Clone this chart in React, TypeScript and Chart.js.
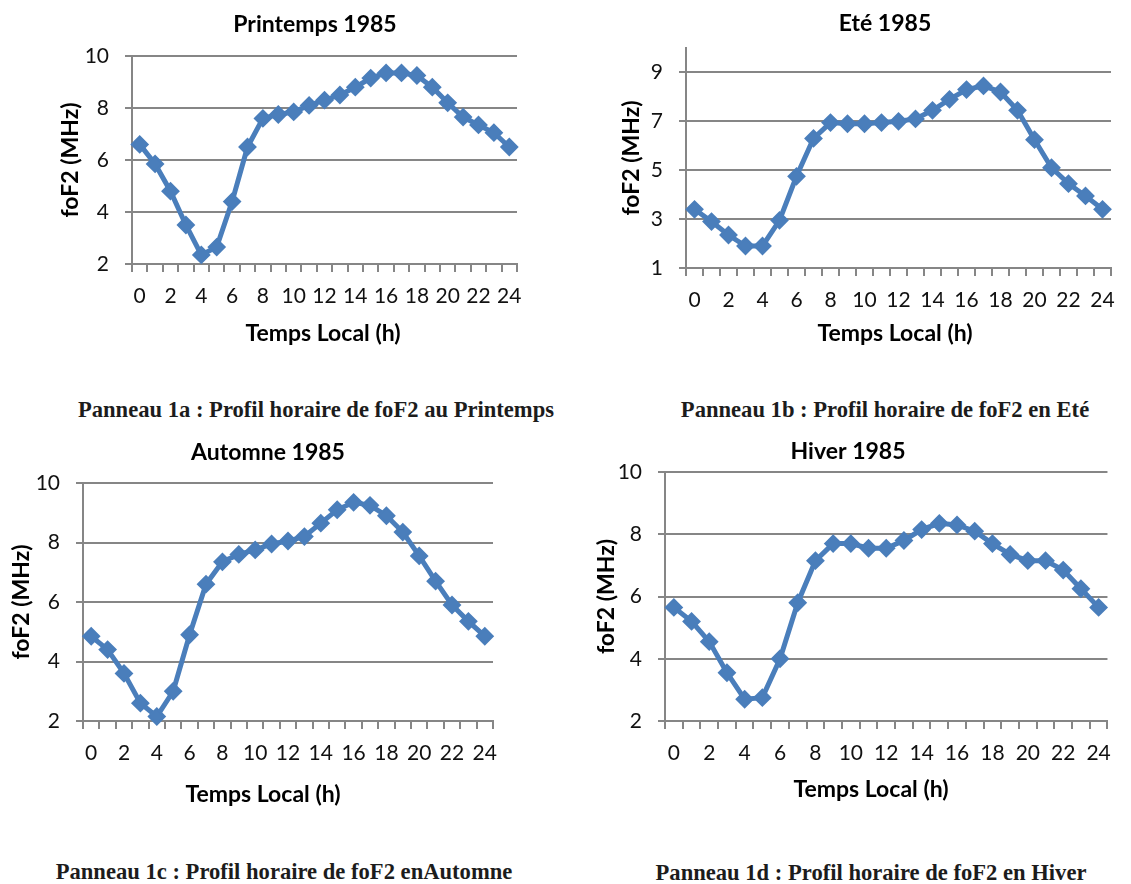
import React, { useEffect, useRef } from 'react';
import { Chart, registerables } from 'chart.js';

Chart.register(...registerables);
Chart.defaults.font.family = 'Lato';

// ---------- data ----------
const hours = ['0', '1', '2', '3', '4', '5', '6', '7', '8', '9', '10', '11', '12',
  '13', '14', '15', '16', '17', '18', '19', '20', '21', '22', '23', '24'];

const yTicksPrintemps = [2, 4, 6, 8, 10];
const yTicksEte = [1, 3, 5, 7, 9];
const yTicksAutomne = [2, 4, 6, 8, 10];
const yTicksHiver = [2, 4, 6, 8, 10];

const foF2Printemps = [6.6, 5.85, 4.8, 3.5, 2.35, 2.65, 4.4, 6.5, 7.6, 7.75, 7.85, 8.1, 8.3,
  8.5, 8.8, 9.15, 9.35, 9.35, 9.25, 8.8, 8.2, 7.65, 7.35, 7.05, 6.5];
const foF2Ete = [3.4, 2.9, 2.35, 1.9, 1.9, 2.95, 4.75, 6.3, 6.95, 6.9, 6.9, 6.95, 7.0,
  7.1, 7.45, 7.9, 8.3, 8.45, 8.2, 7.45, 6.25, 5.1, 4.45, 3.95, 3.4];
const foF2Automne = [4.85, 4.4, 3.6, 2.6, 2.15, 3.0, 4.9, 6.6, 7.35, 7.6, 7.75, 7.95, 8.05,
  8.2, 8.65, 9.1, 9.35, 9.25, 8.9, 8.35, 7.55, 6.7, 5.9, 5.35, 4.85];
const foF2Hiver = [5.65, 5.2, 4.55, 3.55, 2.7, 2.75, 4.0, 5.8, 7.15, 7.7, 7.7, 7.55, 7.55,
  7.8, 8.15, 8.35, 8.3, 8.1, 7.7, 7.35, 7.15, 7.15, 6.85, 6.25, 5.65];

const xAxisTitle = 'Temps Local (h)';
const yAxisTitle = 'foF2 (MHz)';

// ---------- style ----------
const BLUE = '#4A7EBB';
const GRID = '#868686';
const TXT = '#111111';
const TITLE_SIZE = 23;
const TICK_SIZE = 21;

type PanelProps = {
  title: string;
  values: number[];
  yTicks: number[];
  yMin: number;
  yMax: number;
  plotL: number; plotR: number; plotT: number; plotB: number;
  titleX: number; titleY: number; ct: number;
  yTitleX: number; xTitleX: number; xTitleY: number;
};

function Panel(p: PanelProps) {
  const ref = useRef<HTMLCanvasElement>(null);
  const lh = TITLE_SIZE * 1.2;
  const cl = Math.min(Math.floor(p.yTitleX - 20), Math.round(2 * p.titleX - p.plotR));
  const yPad = p.yTitleX - cl - lh / 2;
  const Wy = p.plotL - cl;
  const cr = Math.max(p.plotR, Math.round(2 * p.titleX - cl));
  const Wr = cr - p.plotR;
  const tPadTop = p.titleY - p.ct - lh / 2;
  const tPadBottom = p.plotT - p.ct - tPadTop - lh;
  const cb = Math.round(p.xTitleY + lh / 2 + 6);
  const Hx = cb - p.plotB;
  const w = cr - cl;
  const h = cb - p.ct;

  useEffect(() => {
    const xTitlePlugin = {
      id: 'xTitlePlugin',
      afterDraw(chart: any) {
        const ctx = chart.ctx;
        ctx.save();
        ctx.font = `bold ${TITLE_SIZE}px Lato`;
        ctx.fillStyle = '#000';
        ctx.textAlign = 'center';
        ctx.textBaseline = 'middle';
        ctx.fillText(xAxisTitle, p.xTitleX - cl, p.xTitleY - p.ct);
        ctx.restore();
      },
    };
    const chart = new Chart(ref.current as HTMLCanvasElement, {
      type: 'line',
      data: {
        labels: hours,
        datasets: [{
          data: p.values,
          borderColor: BLUE,
          backgroundColor: BLUE,
          borderWidth: 5,
          pointStyle: 'rectRot',
          pointRadius: 8,
          pointBorderWidth: 2,
          pointBackgroundColor: BLUE,
          pointBorderColor: BLUE,
          tension: 0,
          clip: false,
          yAxisID: 'y',
        }],
      },
      options: {
        responsive: false,
        animation: false,
        events: [],
        layout: { padding: 0 },
        plugins: {
          legend: { display: false },
          tooltip: { enabled: false },
          title: {
            display: true,
            text: p.title,
            color: '#000',
            font: { family: 'Lato', size: TITLE_SIZE, weight: 'bold', lineHeight: 1.2 },
            padding: { top: tPadTop, bottom: tPadBottom },
          },
        },
        scales: {
          x: {
            type: 'category',
            offset: true,
            grid: {
              offset: true,
              drawOnChartArea: false,
              drawTicks: true,
              tickLength: 8,
              color: GRID,
              lineWidth: 2,
            },
            border: { display: true, color: GRID, width: 2 },
            ticks: {
              autoSkip: false,
              maxRotation: 0,
              minRotation: 0,
              padding: 12,
              color: TXT,
              font: { family: 'Lato', size: TICK_SIZE },
              callback: (_v: any, i: number) => (i % 2 === 0 ? hours[i] : ''),
            },
            title: { display: false, text: xAxisTitle },
            afterFit: (s: any) => { s.height = Hx; },
          },
          y: {
            type: 'linear',
            position: 'left',
            min: p.yMin,
            max: p.yMax,
            afterBuildTicks: (s: any) => { s.ticks = p.yTicks.map((v) => ({ value: v })); },
            grid: {
              drawTicks: true,
              tickLength: 7,
              color: GRID,
              lineWidth: 2,
            },
            border: { display: true, color: GRID, width: 2 },
            ticks: {
              padding: 16,
              color: TXT,
              font: { family: 'Lato', size: TICK_SIZE },
            },
            title: {
              display: true,
              text: yAxisTitle,
              color: '#000',
              font: { family: 'Lato', size: TITLE_SIZE, weight: 'bold', lineHeight: 1.2 },
              padding: { top: yPad, bottom: 0 },
            },
            afterFit: (s: any) => { s.width = Wy; },
          },
          yR: {
            type: 'linear',
            position: 'right',
            display: true,
            grid: { display: false, drawTicks: false },
            border: { display: false },
            ticks: { display: false },
            title: { display: false },
            afterFit: (s: any) => { s.width = Wr; },
          },
        },
      } as any,
      plugins: [xTitlePlugin],
    });
    return () => chart.destroy();
  }, []);

  return (
    <canvas
      ref={ref}
      width={w}
      height={h}
      style={{ position: 'absolute', left: cl, top: p.ct, width: w, height: h }}
    />
  );
}

function Caption({ text, cx, cy }: { text: string; cx: number; cy: number }) {
  return (
    <div
      style={{
        position: 'absolute',
        left: cx - 300,
        top: cy - 11,
        width: 600,
        textAlign: 'center',
        fontFamily: '"Liberation Serif", "Times New Roman", serif',
        fontWeight: 'bold',
        fontSize: 22.6,
        lineHeight: '22px',
        color: '#1c1c1c',
        whiteSpace: 'nowrap',
      }}
    >
      {text}
    </div>
  );
}

export default function App() {
  return (
    <div
      style={{
        position: 'absolute',
        left: 0,
        top: 0,
        width: 1131,
        height: 884,
        overflow: 'hidden',
        background: '#ffffff',
      }}
    >
      <Panel title="Printemps 1985" values={foF2Printemps} yTicks={yTicksPrintemps} yMin={2} yMax={10}
        plotL={132} plotR={517} plotT={56} plotB={264}
        titleX={315} titleY={25} ct={0} yTitleX={71} xTitleX={323} xTitleY={334} />
      <Panel title="Eté 1985" values={foF2Ete} yTicks={yTicksEte} yMin={1} yMax={10}
        plotL={686} plotR={1111} plotT={48} plotB={268}
        titleX={885} titleY={24} ct={0} yTitleX={632} xTitleX={895} xTitleY={334} />
      <Panel title="Automne 1985" values={foF2Automne} yTicks={yTicksAutomne} yMin={2} yMax={10}
        plotL={83} plotR={493} plotT={483} plotB={721}
        titleX={268} titleY={453} ct={425} yTitleX={22} xTitleX={263} xTitleY={795} />
      <Panel title="Hiver 1985" values={foF2Hiver} yTicks={yTicksHiver} yMin={2} yMax={10}
        plotL={665} plotR={1123} plotT={472} plotB={721}
        titleX={848} titleY={452} ct={425} yTitleX={607} xTitleX={871} xTitleY={790} />

      <Caption text="Panneau 1a : Profil horaire de foF2 au Printemps" cx={316} cy={410} />
      <Caption text="Panneau 1b : Profil horaire de foF2 en Eté" cx={885} cy={410} />
      <Caption text="Panneau 1c : Profil horaire de foF2 enAutomne" cx={284} cy={872} />
      <Caption text="Panneau 1d : Profil horaire de foF2 en Hiver" cx={871} cy={873} />
    </div>
  );
}
